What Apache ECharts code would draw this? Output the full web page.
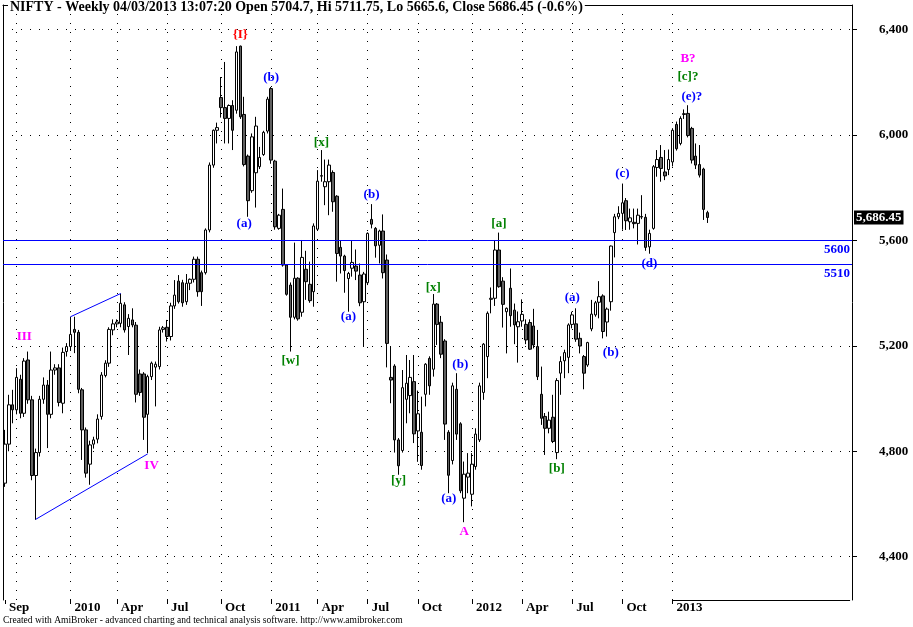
<!DOCTYPE html>
<html>
<head>
<meta charset="utf-8">
<script src="https://cdn.jsdelivr.net/npm/echarts@6/dist/echarts.min.js"></script>
<style>
html, body { margin: 0; padding: 0; background: #fff; }
#chart { width: 913px; height: 627px; }
</style>
</head>
<body>
<div id="chart"></div>
<script>
// NIFTY weekly, Sep 2009 - Mar 2013
var opens = [4679,4827,4976,4957,5073,4944,5146,4995,4708,4795, 4997,5051,4940,5108,5116,4982,5178,5197,5262,5251,
  5033,4881,4751,4827,4846,4932,5087,5134,5260,5283, 5285,5355,5273,5298,5278,5093,5093,4940,5083,5119,
  5121,5262,5270,5235,5351,5445,5439,5367,5437,5452, 5528,5477,5477,5639,5885,6017,6141,6103,6062,6111,
  6093,6336,6077,5919,5788,5856,5879,5925,6014,6175, 5900,5645,5717,5506,5430,5308,5456,5327,5490,5433,
  5405,5642,5843,5803,5822,5857,5767,5573,5540,5455, 5494,5502,5468,5367,5439,5679,5645,5581,5635,5525,
  5080,5123,4843,4803,4997,5011,5064,4877,4872,5016, 5152,5111,5358,5289,5218,4872,4765,5035,4904,4622,
  4702,4637,4742,4843,5023,5159,5376,5380,5563,5445, 5329,5418,5335,5272,5294,5281,5288,5275,5197,5016,
  4932,4887,4929,4795,5096,5143,5156,5281,5283,5228, 5159,5127,5264,5317,5365,5389,5290,5367,5629,5689,
  5702,5750,5670,5668,5664,5688,5687,5575,5645,5876, 5914,5859,5868,5897,6039,5967,6077,6081,6024,5919,
  5887,5870,5704.7];
var highs = [4881,5014,5033,5115,5090,5153,5178,5010,4810,5010, 5080,5070,5178,5130,5130,5193,5210,5310,5310,5260,
  5040,4890,4840,4855,4940,5100,5145,5270,5300,5300, 5398,5365,5320,5342,5290,5110,5100,5090,5140,5140,
  5272,5275,5298,5363,5449,5468,5450,5472,5455,5538, 5538,5485,5645,5895,6020,6046,6219,6276,6115,6131,
  6336,6338,6144,5925,6005,6068,5954,6015,6144,6181, 5905,5700,5796,5510,5440,5591,5460,5601,5560,5519,
  5664,5866,5942,5906,5906,5865,5771,5600,5545,5480, 5597,5565,5512,5480,5630,5737,5650,5640,5698,5546,
  5197,5130,4850,5108,5165,5146,5165,5030,5007,5134, 5160,5396,5362,5313,5225,4880,5060,5096,4910,4761,
  4793,4793,4887,5060,5210,5330,5421,5601,5629,5460, 5345,5493,5360,5330,5376,5300,5300,5340,5260,5121,
  4945,4950,5014,5077,5160,5185,5285,5329,5342,5250, 5165,5215,5374,5370,5445,5395,5345,5580,5700,5729,
  5815,5760,5720,5720,5720,5771,5700,5640,5885,5942, 5961,5942,5944,6025,6050,6070,6096,6112,6030,5967,
  5961,5875,5711.75];
var lows = [4665,4800,4906,4940,4925,4930,4980,4690,4540,4780, 4980,4812,4925,5090,4970,4944,5159,5180,5172,5020,
  4767,4700,4673,4810,4830,4920,5080,5120,5240,5270, 5270,5250,5165,5270,4985,5010,4843,4793,5070,4970,
  5110,5250,5216,5220,5340,5360,5348,5355,5411,5440, 5386,5351,5470,5630,5875,5967,6065,5967,5967,5942,
  6080,6060,5880,5689,5780,5724,5870,5920,6005,5890, 5640,5640,5500,5390,5178,5300,5295,5310,5374,5363,
  5348,5635,5822,5733,5695,5708,5443,5474,5401,5329, 5462,5449,5350,5199,5430,5645,5534,5512,5455,5118,
  4982,4795,4711,4795,4906,4944,4831,4760,4730,4970, 5014,5083,5203,5153,4843,4641,4750,4843,4641,4531,
  4641,4591,4730,4835,4995,5077,5323,5351,5420,5269, 5171,5272,5206,5136,5272,5206,5184,5190,5070,4900,
  4786,4868,4831,4770,5014,5077,5096,5266,5215,5171, 5035,5120,5255,5310,5304,5228,5235,5333,5535,5680,
  5640,5639,5640,5645,5584,5680,5560,5549,5640,5841, 5822,5828,5847,5880,5940,5960,6060,5990,5891,5870,
  5838,5677,5665.6];
var closes = [4827,4976,4957,5080,4944,5142,4995,4708,4795,4997, 5051,4940,5108,5116,4985,5175,5197,5243,5251,5035,
  4881,4717,4824,4843,4922,5089,5134,5262,5283,5290, 5361,5260,5304,5279,5016,5023,4929,5083,5134,5130,
  5260,5268,5235,5351,5392,5367,5363,5437,5452,5528, 5405,5405,5639,5885,6017,6027,6103,6062,6111,6017,
  6314,6068,5887,5750,5992,6033,5914,6009,6135,5904, 5651,5695,5506,5395,5308,5456,5302,5535,5443,5371,
  5654,5824,5845,5822,5885,5746,5550,5540,5485,5474, 5516,5483,5363,5472,5626,5661,5579,5635,5477,5209,
  5070,4843,4745,5041,5058,5080,4866,4942,4746,5130, 5048,5358,5281,5168,4903,4709,5048,4865,4650,4713,
  4717,4751,4865,5048,5206,5323,5380,5563,5424,5357, 5342,5314,5279,5291,5319,5222,5187,5203,5083,4925,
  4887,4918,4837,5068,5140,5174,5279,5317,5225,5199, 5096,5212,5320,5363,5386,5254,5339,5578,5689,5702,
  5742,5674,5685,5663,5695,5690,5573,5626,5879,5906, 5872,5844,5906,6017,5947,6062,6080,5997,5904,5885,
  5847,5717,5686.45];

// x axis: weekly slots (the chart keeps blank bars to the right of the last week)
var firstWeek = '2009-09-07';
var slotCount = 220;
var tickLabels = {
  '2009-09-07': 'Sep', '2010-01-04': '2010', '2010-03-29': 'Apr', '2010-06-28': 'Jul', '2010-10-04': 'Oct',
  '2011-01-03': '2011', '2011-03-28': 'Apr', '2011-06-27': 'Jul', '2011-09-26': 'Oct',
  '2012-01-02': '2012', '2012-04-02': 'Apr', '2012-07-02': 'Jul', '2012-10-01': 'Oct', '2012-12-31': '2013'
};
var gridWeeks = ['2009-09-28', '2010-01-04', '2010-03-29', '2010-06-28', '2010-10-04', '2011-01-03', '2011-03-28',
  '2011-06-27', '2011-09-26', '2012-01-02', '2012-04-02', '2012-07-02', '2012-10-01', '2012-12-31'];
var yTicks = [4400, 4800, 5200, 5600, 6000, 6400];
var levels = [5600, 5510];

// wave count labels: text, week index, price, colour
var waveLabels = [
  ['III', 5, 5233, '#ff00ff'], ['IV', 38, 4744, '#ff00ff'], ['{I}', 61, 6378, '#ff0000'],
  ['(b)', 69, 6215, '#0000ff'], ['(a)', 62, 5662, '#0000ff'], ['[x]', 82, 5972, '#008000'],
  ['[w]', 74, 5142, '#008000'], ['(b)', 95, 5773, '#0000ff'], ['(a)', 89, 5309, '#0000ff'],
  ['[y]', 102, 4689, '#008000'], ['[x]', 111, 5421, '#008000'], ['(b)', 118, 5128, '#0000ff'],
  ['(a)', 115, 4620, '#0000ff'], ['A', 119, 4494, '#ff00ff'], ['[a]', 128, 5662, '#008000'],
  ['(a)', 147, 5383, '#0000ff'], ['[b]', 143, 4733, '#008000'], ['(b)', 157, 5173, '#0000ff'],
  ['(c)', 160, 5853, '#0000ff'], ['(d)', 167, 5510, '#0000ff'], ['(e)?', 178, 6144, '#0000ff'],
  ['[c]?', 177, 6219, '#008000'], ['B?', 177, 6287, '#ff00ff']
];
// wedge trend lines: [week index, price] pairs
var wedgeLines = [
  [[8, 4542], [37, 4790]],
  [[17, 5310], [30, 5398]]
];

var lastClose = closes[closes.length - 1];
var yMin = 4236, yMax = 6492;
var serif = '"Liberation Serif", "Times New Roman", serif';

var weeks = [];
var t0 = Date.parse(firstWeek + 'T00:00:00Z');
for (var i = 0; i < slotCount; i++) {
  weeks.push(new Date(t0 + i * 7 * 86400000).toISOString().slice(0, 10));
}
var candles = opens.map(function (o, i) { return [o, closes[i], lows[i], highs[i]]; });
var emptyData = weeks.map(function () { return null; });

function fmt(v) { return v.toLocaleString('en-US'); }
function isTick(i, v) { return tickLabels[v] !== undefined; }

var myChart = echarts.init(document.getElementById('chart'), null, { renderer: 'canvas' });

var option = {
  animation: false,
  backgroundColor: '#fff',
  title: [{
    text: 'NIFTY - Weekly 04/03/2013 13:07:20 Open 5704.7, Hi 5711.75, Lo 5665.6, Close 5686.45 (-0.6%)',
    left: 8, top: 0, padding: [0, 2, 0, 2], backgroundColor: '#fff',
    textStyle: { fontFamily: serif, fontWeight: 'bold', fontSize: 14, color: '#000' }
  }, {
    text: 'Created with AmiBroker - advanced charting and technical analysis software. http://www.amibroker.com',
    left: 3, top: 615, padding: 0,
    textStyle: { fontFamily: serif, fontWeight: 'normal', fontSize: 9.5, color: '#000' }
  }],
  grid: { left: 3, right: 61, top: 5, bottom: 27 },
  xAxis: [{
    type: 'category', data: weeks, boundaryGap: true, position: 'bottom',
    axisLine: { show: false },
    axisTick: { show: true, alignWithLabel: true, length: 4, interval: isTick, lineStyle: { color: '#000' } },
    axisLabel: {
      interval: isTick, formatter: function (v) { return tickLabels[v] || ''; },
      align: 'left', margin: 1, padding: [0, 0, 0, 4],
      fontFamily: serif, fontWeight: 'bold', fontSize: 13, color: '#000'
    },
    splitLine: { show: false }
  }, {
    type: 'category', data: weeks, position: 'top',
    axisLine: { show: true, lineStyle: { color: '#000' } },
    axisTick: { show: false }, axisLabel: { show: false }, splitLine: { show: false }
  }],
  yAxis: [{
    type: 'value', position: 'right', min: yMin, max: yMax,
    axisLine: { show: true, lineStyle: { color: '#000' } },
    axisTick: { show: true, length: 5, customValues: yTicks, lineStyle: { color: '#000' } },
    axisLabel: {
      customValues: yTicks, margin: 11, align: 'left', padding: [0, 0, 0, 16], formatter: fmt,
      fontFamily: serif, fontWeight: 'bold', fontSize: 13, color: '#000'
    },
    splitLine: { show: false }
  }, {
    type: 'value', position: 'left', min: yMin, max: yMax,
    axisLine: { show: true, lineStyle: { color: '#000' } },
    axisTick: { show: false }, axisLabel: { show: false }, splitLine: { show: false }
  }],
  series: [
    {
      name: 'grid', type: 'line', data: emptyData, z: 1, silent: true, symbol: 'none',
      markLine: {
        z: 1, silent: true, symbol: ['none', 'none'], animation: false,
        label: { show: false },
        lineStyle: { color: '#000', type: [1, 8], width: 1 },
        data: yTicks.map(function (v) { return { yAxis: v }; })
          .concat(gridWeeks.map(function (w) { return { xAxis: w }; }))
      }
    },
    {
      name: 'NIFTY', type: 'candlestick', data: candles, z: 3, barWidth: 3,
      itemStyle: {
        color: '#ffffff', color0: '#606060', borderColor: '#000', borderColor0: '#000',
        borderColorDoji: '#000', borderWidth: 1
      }
    },
    {
      name: 'levels', type: 'line', data: emptyData, z: 5, silent: true, symbol: 'none',
      markLine: {
        silent: true, symbol: ['none', 'none'], animation: false,
        data: levels.map(function (v) {
          return {
            yAxis: v, lineStyle: { color: '#0000ff', type: 'solid', width: 1 },
            label: {
              show: true, position: 'insideEndBottom', formatter: String(v), distance: [2, 3],
              color: '#0000ff', fontFamily: serif, fontWeight: 'bold', fontSize: 13
            }
          };
        }).concat(wedgeLines.map(function (seg) {
          return [
            { coord: [weeks[seg[0][0]], seg[0][1]], lineStyle: { color: '#0000ff', type: 'solid', width: 1 }, label: { show: false } },
            { coord: [weeks[seg[1][0]], seg[1][1]] }
          ];
        })).concat([[
          { coord: [weeks[173], yMin], lineStyle: { color: '#000', type: 'solid', width: 1 }, label: { show: false } },
          { coord: [weeks[slotCount - 1], yMin] }
        ], {
          yAxis: lastClose, lineStyle: { color: 'rgba(0,0,0,0)', width: 0 },
          label: {
            show: true, position: 'end', formatter: fmt(lastClose), distance: 2,
            color: '#fff', backgroundColor: '#000', padding: [1, 2, 0, 2],
            fontFamily: serif, fontWeight: 'bold', fontSize: 13
          }
        }])
      }
    },
    {
      name: 'waves', type: 'scatter', z: 6, silent: true,
      symbol: 'circle', symbolSize: 1, itemStyle: { color: 'rgba(0,0,0,0)' },
      label: {
        show: true, position: 'inside', fontFamily: serif, fontWeight: 'bold', fontSize: 13,
        textBorderWidth: 0, textBorderColor: 'transparent', opacity: 1
      },
      labelLayout: { hideOverlap: false },
      data: waveLabels.map(function (w) {
        return {
          value: [weeks[w[1]], w[2]],
          label: { formatter: w[0], color: w[3] }
        };
      })
    }
  ]
};

myChart.setOption(option);
</script>
</body>
</html>
